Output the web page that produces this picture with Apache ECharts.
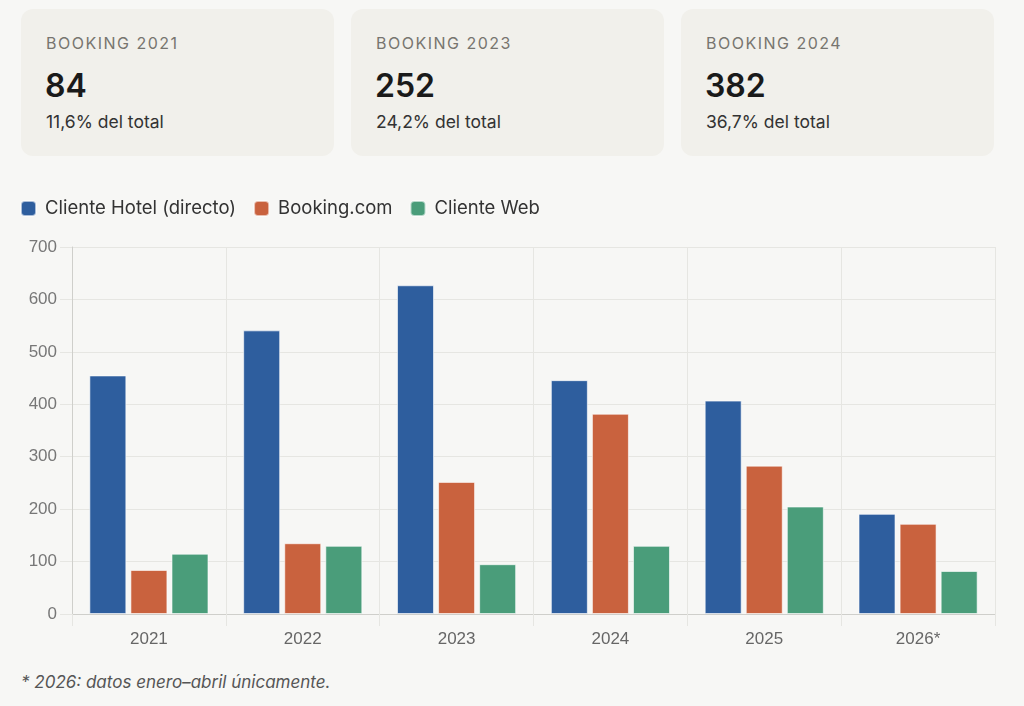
<!DOCTYPE html>
<html><head><meta charset="utf-8">
<script src="https://cdn.jsdelivr.net/npm/echarts@6/dist/echarts.min.js"></script>
<style>
html,body{margin:0;padding:0;width:1024px;height:706px;background:#f7f7f5;overflow:hidden;font-family:Inter,"Noto Sans",sans-serif;}
.card{position:absolute;top:9px;height:147px;width:313px;background:#f1f0eb;border-radius:12px;box-sizing:border-box;}
.lab{position:absolute;top:24px;left:25px;font-size:16px;letter-spacing:1.5px;color:#77756f;}
.num{position:absolute;top:57px;left:24px;font-size:32px;font-weight:600;color:#1a1a1a;}
.sub{position:absolute;top:102px;left:25px;font-size:17.5px;color:#333;}
#chart{position:absolute;left:0;top:180px;width:1024px;height:480px;}
.foot{position:absolute;left:21px;top:672px;font-size:17px;font-style:italic;color:#555;}
</style></head><body>
<div id="cards"></div>
<div id="chart"></div>
<div class="foot">* 2026: datos enero–abril únicamente.</div>
<script>
const categories = ['2021','2022','2023','2024','2025','2026*'];
const seriesNames = ['Cliente Hotel (directo)','Booking.com','Cliente Web'];
const hotelValues = [455, 541, 627, 446, 407, 191];
const bookingValues = [84, 135, 252, 382, 283, 172];
const webValues = [115, 130, 95, 130, 205, 82];
const yTicks = [0,100,200,300,400,500,600,700];
const cardLabels = ['BOOKING 2021','BOOKING 2023','BOOKING 2024'];
const cardValues = ['84','252','382'];
const cardSubs = ['11,6% del total','24,2% del total','36,7% del total'];
const colors = ['#2e5e9e','#c9623e','#4a9d7a'];

const cardLefts = [21,351,681];
const cardsEl = document.getElementById('cards');
cardLabels.forEach((l,i)=>{
  const d=document.createElement('div');d.className='card';d.style.left=cardLefts[i]+'px';
  d.innerHTML='<div class="lab">'+l+'</div><div class="num">'+cardValues[i]+'</div><div class="sub">'+cardSubs[i]+'</div>';
  cardsEl.appendChild(d);
});

const chart = echarts.init(document.getElementById('chart'));
const vals=[hotelValues,bookingValues,webValues];
chart.setOption({
  backgroundColor:'transparent',
  animation:false,
  legend:{left:15,top:14,itemWidth:15,itemHeight:15,itemGap:17,icon:'roundRect',
    textStyle:{fontFamily:'Inter, Noto Sans, sans-serif',fontSize:18.5,color:'#333',padding:[0,0,0,4]},data:seriesNames},
  grid:{left:72,right:29,top:67,bottom:46},
  xAxis:{type:'category',data:categories,boundaryGap:true,
    axisLine:{lineStyle:{color:'#cfcfcb'}},
    axisTick:{show:true,length:12,lineStyle:{color:'#e6e6e2'}},
    splitLine:{show:true,lineStyle:{color:'#e6e6e2'}},
    axisLabel:{margin:17,fontSize:17,color:'#666',fontFamily:'Liberation Sans, Arial, sans-serif'}},
  yAxis:{type:'value',min:0,max:700,interval:100,
    axisLine:{show:true,lineStyle:{color:'#cfcfcb'}},
    axisTick:{show:true,length:12,lineStyle:{color:'#e6e6e2'}},
    splitLine:{show:true,lineStyle:{color:'#e6e6e2'}},
    axisLabel:{margin:15,fontSize:17,color:'#777',fontFamily:'Liberation Sans, Arial, sans-serif'}},
  series:seriesNames.map((n,i)=>({name:n,type:'bar',data:vals[i],barWidth:37,barGap:'11%',
    itemStyle:{color:colors[i],borderColor:'rgba(255,255,255,0.6)',borderWidth:1}}))
});
</script></body></html>
